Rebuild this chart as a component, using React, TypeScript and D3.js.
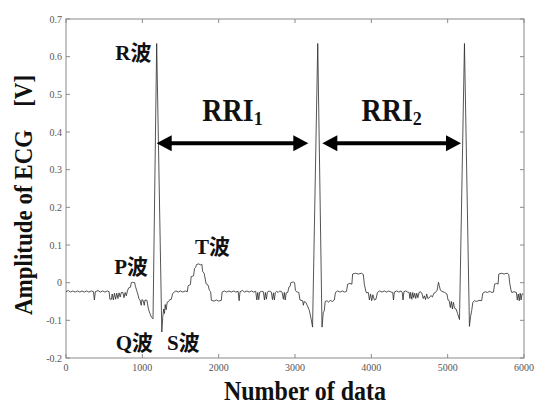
import { useEffect, useRef } from 'react'
import * as d3 from 'd3'

type Pt = [number, number]

// ECG trace, [sample index, volts]
const LEAD_IN: Pt[] = [
  [0, -0.024], [30, -0.021], [60, -0.025], [90, -0.022], [120, -0.025], [150, -0.022],
  [180, -0.025], [210, -0.022], [240, -0.025], [270, -0.022], [300, -0.025], [330, -0.022],
  [360, -0.024], [372, -0.046], [384, -0.024], [420, -0.021], [450, -0.025], [480, -0.022],
  [510, -0.025], [540, -0.022], [565, -0.024], [575, -0.044], [595, -0.044], [605, -0.030],
  [620, -0.046], [635, -0.028], [650, -0.044], [665, -0.028], [680, -0.042], [695, -0.027],
  [710, -0.038], [725, -0.026], [745, -0.026], [760, -0.040], [775, -0.026], [790, -0.035],
  [805, -0.022], [820, -0.014], [845, -0.012], [855, 0.000], [870, 0.001], [900, 0.000],
  [910, -0.010], [925, -0.020], [940, -0.030], [955, -0.043], [970, -0.046], [985, -0.060],
  [995, -0.045], [1010, -0.047], [1025, -0.060], [1035, -0.046], [1060, -0.047], [1080, -0.070],
  [1100, -0.082], [1120, -0.092],
]

const BEAT_1: Pt[] = [
  [1140, -0.096], [1188, 0.635], [1255, -0.131], [1268, -0.090], [1280, -0.070], [1290, -0.082],
  [1300, -0.058], [1312, -0.072], [1325, -0.052], [1345, -0.050], [1360, -0.045], [1380, -0.044],
  [1395, -0.030], [1410, -0.026], [1440, -0.022], [1470, -0.025], [1500, -0.022], [1530, -0.025],
  [1560, -0.022], [1590, -0.024], [1600, -0.008], [1630, -0.005], [1640, 0.016], [1670, 0.018],
  [1685, 0.038], [1700, 0.041], [1710, 0.048], [1740, 0.050], [1760, 0.047], [1780, 0.049],
  [1790, 0.030], [1810, 0.025], [1835, -0.003], [1860, -0.006], [1880, -0.021], [1895, -0.024],
  [1905, -0.047], [1940, -0.049], [1970, -0.046], [2000, -0.049], [2035, -0.047], [2045, -0.025],
]

const GAP_1: Pt[] = [
  [2075, -0.022], [2105, -0.025], [2135, -0.022], [2165, -0.025], [2195, -0.022], [2225, -0.025],
  [2255, -0.023], [2268, -0.048], [2280, -0.024], [2310, -0.021], [2340, -0.025], [2370, -0.022],
  [2400, -0.025], [2430, -0.022], [2460, -0.025], [2485, -0.023], [2500, -0.046], [2512, -0.026],
  [2525, -0.045], [2538, -0.025], [2560, -0.023], [2585, -0.024], [2600, -0.046], [2612, -0.026],
  [2625, -0.044], [2638, -0.025], [2660, -0.022], [2690, -0.025], [2705, -0.045], [2718, -0.027],
  [2730, -0.046], [2742, -0.026], [2760, -0.023], [2780, -0.026], [2800, -0.022], [2830, -0.025],
  [2848, -0.044], [2860, -0.026], [2872, -0.046], [2885, -0.027], [2905, -0.026], [2920, -0.012],
  [2935, -0.010], [2945, 0.000], [2975, 0.002], [2995, 0.000], [3005, -0.020], [3020, -0.024],
  [3050, -0.026], [3065, -0.046], [3100, -0.048], [3110, -0.060], [3120, -0.050], [3140, -0.052],
  [3160, -0.060], [3188, -0.074], [3210, -0.095], [3230, -0.118],
]

const BEAT_2: Pt[] = [
  [3298, 0.635], [3354, -0.118], [3370, -0.080], [3384, -0.074], [3395, -0.050], [3420, -0.048],
  [3440, -0.052], [3460, -0.047], [3490, -0.050], [3515, -0.046], [3530, -0.026], [3560, -0.022],
  [3590, -0.025], [3620, -0.022], [3650, -0.025], [3675, -0.023], [3690, -0.004], [3720, -0.002],
  [3745, -0.004], [3755, 0.023], [3790, 0.025], [3830, 0.023], [3870, 0.025], [3895, 0.022],
  [3908, -0.004], [3925, -0.020], [3935, -0.027], [3960, -0.026], [3975, -0.046], [3990, -0.030],
  [4005, -0.048], [4020, -0.032], [4040, -0.046], [4060, -0.044], [4080, -0.026],
]

const GAP_2: Pt[] = [
  [4110, -0.022], [4140, -0.025], [4170, -0.022], [4200, -0.025], [4230, -0.022], [4260, -0.025],
  [4280, -0.026], [4290, -0.046], [4302, -0.025], [4330, -0.022], [4360, -0.025], [4390, -0.022],
  [4405, -0.026], [4415, -0.046], [4427, -0.024], [4450, -0.022], [4475, -0.025], [4495, -0.026],
  [4505, -0.042], [4515, -0.026], [4530, -0.044], [4542, -0.026], [4555, -0.040], [4568, -0.028],
  [4582, -0.042], [4595, -0.028], [4610, -0.040], [4625, -0.026], [4645, -0.024], [4665, -0.030],
  [4680, -0.042], [4695, -0.035], [4710, -0.045], [4725, -0.030], [4740, -0.042], [4760, -0.040],
  [4780, -0.034], [4800, -0.038], [4820, -0.028], [4840, -0.026], [4862, -0.020], [4870, -0.010],
  [4880, 0.001], [4890, -0.008], [4905, -0.020], [4925, -0.023], [4960, -0.026], [4990, -0.030],
  [5005, -0.046], [5020, -0.048], [5035, -0.066], [5048, -0.050], [5062, -0.070], [5075, -0.052],
  [5090, -0.068], [5110, -0.070], [5130, -0.082], [5155, -0.098],
]

const BEAT_3: Pt[] = [
  [5220, 0.635], [5285, -0.116], [5300, -0.090], [5315, -0.074], [5330, -0.052], [5350, -0.048],
  [5380, -0.050], [5410, -0.047], [5445, -0.048], [5460, -0.028], [5490, -0.024], [5520, -0.026],
  [5550, -0.023], [5580, -0.026], [5600, -0.025], [5615, -0.004], [5640, -0.002], [5660, -0.004],
  [5670, 0.023], [5700, 0.025], [5740, 0.023], [5780, 0.025], [5800, 0.022], [5815, -0.004],
  [5830, -0.020], [5840, -0.026], [5870, -0.024], [5900, -0.026], [5912, -0.046], [5925, -0.030],
  [5938, -0.048], [5950, -0.028], [5962, -0.046], [5975, -0.030], [5990, -0.030],
]

const X_TICKS = [0, 1000, 2000, 3000, 4000, 5000, 6000]
const Y_TICKS = [-0.2, -0.1, 0, 0.1, 0.2, 0.3, 0.4, 0.5, 0.6, 0.7]

// wave labels: [text, sample, volts, anchor]
const WAVE_LABELS: [string, number, number, string][] = [
  ['R波', 1120, 0.591, 'end'],
  ['P波', 1074, 0.023, 'end'],
  ['T波', 1690, 0.076, 'start'],
  ['Q波', 1140, -0.179, 'end'],
  ['S波', 1323, -0.179, 'start'],
]

// RR intervals: [from sample, to sample, subscript]
const RRI: [number, number, string][] = [
  [1188, 3174, '1'],
  [3358, 5175, '2'],
]
const RRI_LEVEL = 0.37
const RRI_TEXT_LEVEL = 0.43

const SERIF = '"Liberation Serif", "Times New Roman", "Noto Sans CJK JP", serif'

export default function App() {
  const svgRef = useRef<SVGSVGElement>(null)

  useEffect(() => {
    const svgEl = svgRef.current
    if (!svgEl) return
    const svg = d3.select(svgEl)
    svg.selectAll('*').remove()

    const x = d3.scaleLinear().domain([0, 6000]).range([66, 524])
    const y = d3.scaleLinear().domain([-0.2, 0.7]).range([358, 19])
    const [x0, x1] = x.range()
    const [y0, y1] = y.range()

    const trace = [...LEAD_IN, ...BEAT_1, ...GAP_1, ...BEAT_2, ...GAP_2, ...BEAT_3]

    // frame + inward ticks on all sides
    svg.append('rect')
      .attr('x', x0).attr('y', y1).attr('width', x1 - x0).attr('height', y0 - y1)
      .attr('fill', 'none').attr('stroke', '#8a8a8a').attr('stroke-width', 1)

    const tk = 4
    X_TICKS.forEach(v => {
      const px = x(v)
      svg.append('line').attr('x1', px).attr('x2', px).attr('y1', y0).attr('y2', y0 - tk)
        .attr('stroke', '#8a8a8a')
      svg.append('line').attr('x1', px).attr('x2', px).attr('y1', y1).attr('y2', y1 + tk)
        .attr('stroke', '#8a8a8a')
      svg.append('text')
        .attr('transform', `translate(${px},371) scale(1,1.12)`).attr('text-anchor', 'middle')
        .attr('font-family', SERIF).attr('font-size', 10).attr('fill', '#555')
        .text(String(v))
    })
    Y_TICKS.forEach(v => {
      const py = y(v)
      svg.append('line').attr('x1', x0).attr('x2', x0 + tk).attr('y1', py).attr('y2', py)
        .attr('stroke', '#8a8a8a')
      svg.append('line').attr('x1', x1).attr('x2', x1 - tk).attr('y1', py).attr('y2', py)
        .attr('stroke', '#8a8a8a')
      svg.append('text')
        .attr('transform', `translate(${x0 - 4},${py + 3.8}) scale(1,1.12)`).attr('text-anchor', 'end')
        .attr('font-family', SERIF).attr('font-size', 10).attr('fill', '#555')
        .text(Math.abs(v) < 1e-9 ? '0' : v.toFixed(1))
    })

    const line = d3.line<Pt>().x(d => x(d[0])).y(d => y(d[1]))
    svg.append('path')
      .attr('d', line(trace) ?? '')
      .attr('fill', 'none').attr('stroke', '#2a2a2a').attr('stroke-width', 0.8)
      .attr('stroke-linejoin', 'round')

    // RR interval arrows
    const head = 15
    const half = 8
    const ay = y(RRI_LEVEL)
    RRI.forEach(([a, b, sub]) => {
      const xa = x(a)
      const xb = x(b)
      svg.append('line').attr('x1', xa + head - 2).attr('x2', xb - head + 2)
        .attr('y1', ay).attr('y2', ay).attr('stroke', '#000').attr('stroke-width', 4)
      svg.append('path')
        .attr('d', `M${xa},${ay}L${xa + head},${ay - half}L${xa + head},${ay + half}Z`)
        .attr('fill', '#000')
      svg.append('path')
        .attr('d', `M${xb},${ay}L${xb - head},${ay - half}L${xb - head},${ay + half}Z`)
        .attr('fill', '#000')
      const t = svg.append('text')
        .attr('transform', `translate(${(xa + xb) / 2},${y(RRI_TEXT_LEVEL)}) scale(1,1.1)`)
        .attr('text-anchor', 'middle')
        .attr('font-family', SERIF).attr('font-size', 28).attr('font-weight', 700).attr('fill', '#111')
      t.append('tspan').text('RRI')
      t.append('tspan').attr('font-size', 18).attr('dy', 4).text(sub)
    })

    WAVE_LABELS.forEach(([txt, sx, sv, anchor]) => {
      svg.append('text')
        .attr('x', x(sx)).attr('y', y(sv)).attr('text-anchor', anchor)
        .attr('font-family', SERIF).attr('font-size', 21).attr('font-weight', 700).attr('fill', '#111')
        .text(txt)
    })

    // axis titles
    svg.append('text')
      .attr('transform', 'translate(305,400) scale(1,1.12)').attr('text-anchor', 'middle')
      .attr('font-family', SERIF).attr('font-size', 24).attr('font-weight', 700).attr('fill', '#111')
      .text('Number of data')
    svg.append('text')
      .attr('transform', 'translate(32,195) rotate(-90) scale(1,1.12)').attr('text-anchor', 'middle')
      .attr('font-family', SERIF).attr('font-size', 23).attr('font-weight', 700).attr('fill', '#111')
      .text('Amplitude of ECG\u3000[V]')
  }, [])

  return (
    <svg
      ref={svgRef}
      width={535}
      height={406}
      style={{ position: 'absolute', left: 0, top: 0, background: '#fff' }}
    />
  )
}
